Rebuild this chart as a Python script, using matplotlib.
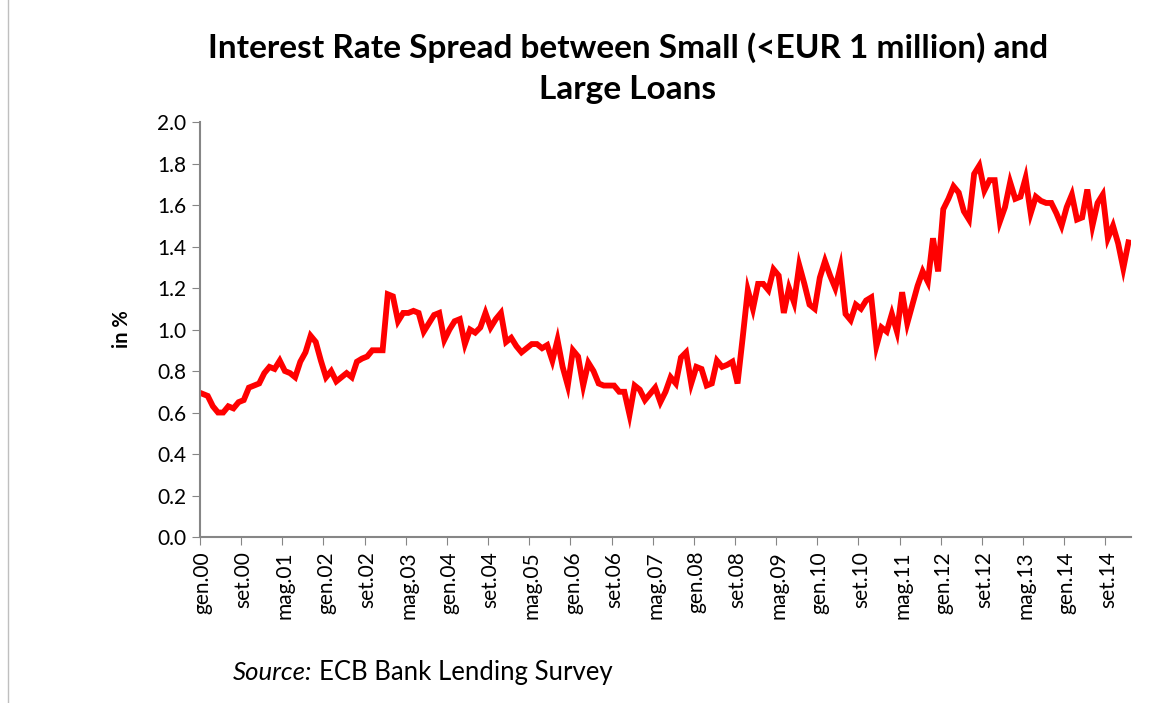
import matplotlib.pyplot as plt
from matplotlib.patches import Rectangle

# Monthly spread, Jan 2000 - Jan 2015 (percentage points)
spread = [
    0.69, 0.68, 0.63, 0.60, 0.60, 0.63, 0.62, 0.65, 0.66, 0.72, 0.73, 0.74,
    0.79, 0.82, 0.81, 0.85, 0.80, 0.79, 0.77, 0.845, 0.89, 0.97, 0.94, 0.85,
    0.77, 0.80, 0.75, 0.77, 0.79, 0.77, 0.845, 0.86, 0.87, 0.90, 0.90, 0.90,
    1.17, 1.16, 1.04, 1.08, 1.08, 1.09, 1.08, 0.99, 1.03, 1.07, 1.08, 0.95,
    1.00, 1.04, 1.05, 0.93, 1.00, 0.985, 1.01, 1.08, 1.01, 1.05, 1.08, 0.94,
    0.96, 0.92, 0.89, 0.91, 0.93, 0.93, 0.91, 0.925, 0.85, 0.95, 0.82, 0.73,
    0.90, 0.87, 0.73, 0.84, 0.80, 0.74, 0.73, 0.73, 0.73, 0.70, 0.70, 0.59,
    0.73, 0.71, 0.66, 0.69, 0.72, 0.65, 0.70, 0.77, 0.74, 0.865, 0.89, 0.74,
    0.82, 0.81, 0.73, 0.74, 0.85, 0.82, 0.83, 0.845, 0.74, 0.96, 1.19, 1.10,
    1.22, 1.22, 1.19, 1.29, 1.26, 1.08, 1.20, 1.13, 1.31, 1.22, 1.12, 1.10,
    1.25, 1.33, 1.26, 1.20, 1.30, 1.075, 1.045, 1.12, 1.10, 1.14, 1.155, 0.92,
    1.01, 0.99, 1.075, 0.99, 1.18, 1.03, 1.12, 1.21, 1.28, 1.23, 1.44, 1.28,
    1.58, 1.63, 1.69, 1.66, 1.57, 1.53, 1.75, 1.79, 1.67, 1.72, 1.72, 1.52,
    1.59, 1.71, 1.63, 1.64, 1.73, 1.56, 1.64, 1.62, 1.61, 1.61, 1.56, 1.50,
    1.59, 1.65, 1.53, 1.54, 1.675, 1.50, 1.61, 1.65, 1.44, 1.50, 1.415, 1.295,
    1.42,
]
month_names = ["gen", "feb", "mar", "apr", "mag", "giu",
               "lug", "ago", "set", "ott", "nov", "dic"]
start_year = 2000
label_step = 8
y_ticks = [0.0, 0.2, 0.4, 0.6, 0.8, 1.0, 1.2, 1.4, 1.6, 1.8, 2.0]

plt.rcParams["font.family"] = ["Lato", "DejaVu Sans"]
axis_grey = "#868686"

fig = plt.figure(figsize=(11.69, 7.03), dpi=100)
ax = fig.add_axes([0.1711, 0.2361, 0.7964, 0.5903])

x = list(range(len(spread)))
ax.plot(x, spread, color="#FF0000", linewidth=4.2, solid_joinstyle="miter")

ax.set_xlim(-0.5, len(spread) - 0.5)
ax.set_ylim(0, 2.0)
ax.set_yticks(y_ticks)
ax.set_yticklabels([f"{v:.1f}" for v in y_ticks], fontsize=15)
ax.set_ylabel("in %", fontsize=14.5, fontweight="bold", labelpad=18)

# tick marks sit between categories, labels at the month centres
label_pos = list(range(0, len(spread), label_step))
ax.set_xticks([p - 0.5 for p in label_pos])
ax.set_xticklabels([])
ax.set_xticks(label_pos, minor=True)
ax.set_xticklabels([f"{month_names[p % 12]}.{(start_year + p // 12) % 100:02d}"
                    for p in label_pos], minor=True, rotation=90, fontsize=15)
ax.tick_params(axis="x", which="major", length=6, color=axis_grey, direction="out")
ax.tick_params(axis="x", which="minor", length=0, pad=10)
ax.tick_params(axis="y", length=6, color=axis_grey, direction="out", pad=4)

for side in ("top", "right"):
    ax.spines[side].set_visible(False)
for side in ("left", "bottom"):
    ax.spines[side].set_color(axis_grey)
    ax.spines[side].set_linewidth(1.5)

fig.text(0.537, 0.954, "Interest Rate Spread between Small (<EUR 1 million) and\nLarge Loans",
         ha="center", va="top", fontsize=24, fontweight="bold", linespacing=1.5)

fig.text(0.199, 0.033, "Source:", style="italic", fontsize=18.5, ha="left", va="baseline")
fig.text(0.273, 0.033, "ECB Bank Lending Survey", fontsize=18.5, ha="left", va="baseline")

# light chart-area frame
fig.patches.append(Rectangle((0.007, -0.01), 1.1, 1.1, transform=fig.transFigure,
                             fill=False, edgecolor="#BFBFBF", linewidth=1))

fig.savefig("out.png", dpi=100, facecolor="white")
